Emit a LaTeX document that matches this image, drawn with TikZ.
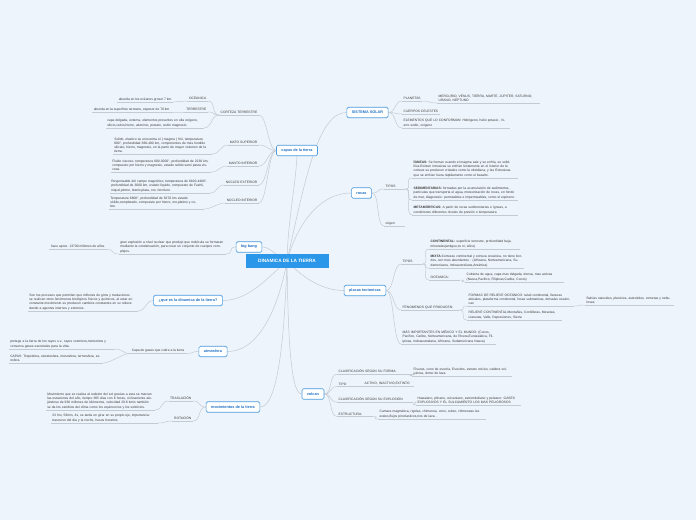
\documentclass[tikz,border=0pt]{standalone}
\usepackage{fontspec}
\setmainfont{Liberation Sans}
\usetikzlibrary{backgrounds}
\definecolor{bgc}{HTML}{EEF4FB}
\definecolor{mblue}{HTML}{4A9BE0}
\definecolor{mtext}{HTML}{1C6FC4}
\definecolor{cblue}{HTML}{2A97E8}
\definecolor{lgray}{HTML}{C3CAD2}
\definecolor{tgray}{HTML}{3A3A3A}
\newcommand\leaffont{\fontsize{3.3}{4.2}\selectfont}
\begin{document}
\begin{tikzpicture}[x=1pt,y=-1pt,
  conn/.style={draw=lgray,line width=0.5pt},
  uline/.style={draw=lgray,line width=0.5pt},
  lc/.style={to path={.. controls +(-#1,0) and +(#1,0) .. (\tikztotarget)}}, lc/.default=8,
  rc/.style={to path={.. controls +(#1,0) and +(-#1,0) .. (\tikztotarget)}}, rc/.default=8,
  mainbox/.style={draw=mblue,line width=0.6pt,rounded corners=1.5pt,fill=white,text=mtext,
    font=\bfseries\fontsize{3.8}{4.5}\selectfont,inner xsep=5pt,inner ysep=0pt,minimum height=10.5pt},
  centerbox/.style={fill=cblue,text=white,font=\bfseries\fontsize{4.7}{5.5}\selectfont,
    minimum width=83pt,minimum height=14pt,inner sep=0pt},
  leaf/.style={font=\leaffont,text=tgray,align=left,inner xsep=1.5pt,inner ysep=1pt,
    append after command={(\tikzlastnode.south west) edge[uline] (\tikzlastnode.south east)}},
  leafR/.style={leaf,anchor=south west},
  leafL/.style={leaf,anchor=south east},
]
\useasboundingbox (0,0) rectangle (696,520);

% main nodes
\node[centerbox] (dt) at (287,261) {DINAMICA DE LA TIERRA};
\node[mainbox] (capas) at (297,150.5) {capas de la tierra};
\node[mainbox] (ss) at (367.5,112.5) {SISTEMA SOLAR};
\node[mainbox] (rocas) at (361.5,193) {rocas};
\node[mainbox] (bb) at (249,247) {big bang};
\node[mainbox] (placas) at (365,290.5) {placas tectonicas};
\node[mainbox] (que) at (188,300.5) {¿que es la dinamica de la tierra?};
\node[mainbox] (atm) at (213,351.5) {atmosfera};
\node[mainbox] (mov) at (233,407) {movimientos de la tierra};
\node[mainbox] (vol) at (313,394) {volcan};

% capas de la tierra
\node[leafL] (cort) at (259,115) {CORTEZA TERRESTRE};
\node[leafL] (msup) at (259,145) {MATO SUPERIOR};
\node[leafL] (minf) at (259,166) {MANTO INFERIOR};
\node[leafL] (next) at (259,185) {NÚCLEO EXTERIOR};
\node[leafL] (nint) at (259,203) {NÚCLEO INTERIOR};
\node[leafL] (oce) at (208,101) {OCEANICA};
\node[leafL] (ter) at (208,112) {TERRESTRE};
\node[leafL,text width=95pt] (cdel) at (204,128) {capa delgada, externa, elementos presentes en ella oxígeno, silicio,calcio,hierro, aluminio, potasio, sodio magnesio.};
\node[leafL] (oce2) at (173,102) {abunda en los océanos grosor 7 km};
\node[leafL] (ter2) at (171,112) {abunda en la superficie terrestre, espesor de 70 km};
\node[leafL,text width=96pt] (msup2) at (212,154) {Solido, elastico se encuentra el ( magma ) frió, temperatura 600°, profundidad 360-400 km, componentes de mas fundido silicato, hierro, magnesio, en la parte de mayor volumen de la tierra.};
\node[leafL,text width=97pt] (minf2) at (211,172) {Fluido viscoso, temperatura 600-3000°, profundidad de 2230 km, compuesto por hierro y magnesio, estado solido semi pasta viscosa.};
\node[leafL,text width=97pt] (next2) at (210,193) {Responsable del campo magnético, temperatura de 6100-4400°, profundidad de 3000 km, estado liquido, compuesto de FeeNi, niquel,plomo, titanio,plata, oro, ferroluro.};
\node[leafL,text width=92pt] (nint2) at (204,209) {Temperatura 6600°, profundidad de 6370 km estado sólido,completado, compuesto por hierro, oro,platino y cobre.};

% big bang
\node[leafL,text width=104pt] (gran) at (226,254) {gran explosión a nivel nuclear que produjo que molécula se formaran mediante la condensación, para crear un conjunto de cuerpos complejos.};
\node[leafL] (hace) at (107,249.5) {hace aprox. 13700 millones de años.};

% que es
\node[leafL,text width=107pt] (qtext) at (138,311) {Son los procesos que permiten que millones de giros y traslaciones se realicen otros fenómenos biológicos físicos y químicos, al estar en constante movimiento se producen cambios constantes en su relieve dando a agentes internos y externos.};

% atmosfera
\node[leafL] (capa) at (186,353.5) {Capa de gases que cubre a la tierra};
\node[leafL,text width=103pt] (prot) at (115,349) {protege a la tierra de los rayos u.v., rayos cosmicos,meteoritos y conserva gases esenciales para la vida.};
\node[leafL,text width=91pt] (capas2) at (103,363) {CAPAS: Troposfera, estratosfera, mesosfera, termosfera, exosfera.};

% movimientos
\node[leafL] (tras) at (193,401) {TRASLACIÓN};
\node[leafL] (rot) at (193,421) {ROTACIÓN};
\node[leafL,text width=106pt] (tras2) at (155,410) {Movimiento que se realiza al rededor del sol gracias a esta se marcan las estaciones del año, tiempo 365 días con 6 horas, cíclicamente alejándose de 930 millones de kilómetros, velocidad 29.8 km/s también se da los cambios del clima como los equinoccios y los solsticios.};
\node[leafL,text width=104pt] (rot2) at (158,423) {23 hrs, 56min, 4s, se tarda en girar en su propio eje, importancia: trascurso del día y la noche, husos horarios.};

% sistema solar
\node[leafR] (plan) at (402,101) {PLANETAS};
\node[leafR,text width=100pt] (merc) at (437,103) {MERCURIO, VENUS, TIERRA, MARTE, JÚPITER, SATURNO, URANO, NEPTUNO};
\node[leafR] (cuer) at (402,114) {CUERPOS CELESTES};
\node[leafR,text width=105pt] (elem) at (402,128) {ELEMENTOS QUE LO CONFORMAN: Hidrógeno, helio potasio , hierro sodio, oxigeno};

% rocas
\node[leafR,text width=18pt] (tipos) at (384,189) {TIPOS};
\node[leafR,text width=18pt] (orig) at (384,226) {origen};
\node[leafR,text width=103pt] (ign) at (412,178) {\textbf{ÍGNEAS:} Se forman cuando el magma sale y se enfría, se solidifica.Existen intrusivas se enfrían lentamente en el interior de la corteza se producen cristales como la obsidiana, y las Extrusivas que se enfrían fuera rápidamente como el basalto.};
\node[leafR,text width=103pt] (sed) at (412,200) {\textbf{SEDIMENTARIAS:} formadas por la acumulación de sedimentos, partículas que transporta el agua, meteorización de rocas, en fondo de mar, diagenesis: permeables e impermeables, como el espinero.};
\node[leafR,text width=103pt] (met) at (412,215) {\textbf{METAMÓRFICAS:} A partir de rocas sedimentarias e ígneas, a condiciones diferentes niveles de presión o temperatura};

% placas tectonicas
\node[leafR,text width=18pt] (ptip) at (401,264) {TIPOS};
\node[leafR,text width=55pt] (fen) at (401,310) {FENOMENOS QUE PRODUCEN:};
\node[leafR,text width=92pt] (mas) at (401,344) {MÁS IMPORTANTES EN MÉXICO Y EL MUNDO: (Cocos, Pacifico, Caribe, Norteamericana, de Rivera,Euroasiática, Filipinas, Indoaustraliana, Africana, Sudamericana Nasca)};
\node[leafR,text width=88pt] (cont) at (429,249) {\textbf{CONTINENTAL:} superficie terrestre, profundidad baja, minerales(antiguo,ss ni, silice)};
\node[leafR,text width=92pt] (mix) at (429,268) {\textbf{MIXTA:}Cortezas continental y corteza oceánica, no tiene bordes, son mas abundantes : (Africana, Norteamericana, Sudamericana, Indoaustraliana,Antártica)};
\node[leafR,text width=28pt] (poce) at (429,280) {OCEANICA:};
\node[leafR,text width=96pt] (cub) at (465,282) {Cubierta de agua, capa mas delgada, densa, mas activas (Nasca,Pacifico, Filipinas,Caribe, Cocos)};
\node[leafR,text width=104pt] (form) at (467,306) {FORMAS DE RELIEVE OCEÁNICO: talud continental, llanuras abisales, plataforma continental, fosas submarinas, dorsales oceánicas};
\node[leafR,text width=92pt] (rel) at (467,320) {RELIEVE CONTINENTAL:Montañas, Cordilleras, Mesetas, Llanuras, Valle, Depresiones, Sierra};
\node[leafR,text width=86pt] (bah) at (585,305) {Bahías naturales, planicies, asteroides, cometas y nebulosas.};

% volcan
\node[leafR,text width=72pt] (cf) at (337,374) {CLASIFICACIÓN SEGÚN SU FORMA:};
\node[leafR,text width=97pt] (fis) at (412,376) {Fisuras, cono de escoria, Escudos, estrato volcán, caldera volcánica, domo de lava.};
\node[leafR,text width=12pt] (tipo) at (337,386.5) {TIPO};
\node[leafR,text width=48pt] (act) at (363,386.5) {ACTIVO, INACTIVO,EXTINTO};
\node[leafR,text width=73pt] (ce) at (337,402) {CLASIFICACIÓN SEGÚN SU EXPLOSIÓN};
\node[leafR,text width=102pt] (haw) at (416,405) {Hawaiano, plinano, vulcaniano, estromboliano y peleano: GASES EXPLOSIVOS Y EL SULCAMIENTO LOS MAS PELIGROSOS};
\node[leafR,text width=33pt] (est) at (337,416.5) {ESTRUCTURA:};
\node[leafR,text width=105pt] (cam) at (378,419) {Camara magmática, rigolas, chimenea, cono, cráter, chimeneas laterales,flujos piroclasticos,rios de lava .};

\begin{pgfonlayer}{background}
\fill[bgc] (0,0) rectangle (696,520);
% central connectors
\draw[conn] (dt.center) .. controls (288,220) and (295,190) .. (capas.south);
\draw[conn] (dt.center) .. controls (305,180) and (318,112) .. (ss.west);
\draw[conn] (dt.center) .. controls (300,215) and (325,193) .. (rocas.west);
\draw[conn] (dt.center) .. controls (275,255) and (270,247) .. (bb.east);
\draw[conn] (dt.center) .. controls (300,275) and (320,290.5) .. (placas.west);
\draw[conn] (dt.center) .. controls (270,275) and (250,300.5) .. (que.east);
\draw[conn] (dt.center) .. controls (280,300) and (262,351.5) .. (atm.east);
\draw[conn] (dt.center) .. controls (285,320) and (280,407) .. (mov.east);
\draw[conn] (dt.center) .. controls (288,330) and (290,394) .. (vol.west);
% left side
\foreach \c in {cort,msup,minf,next,nint} \draw[conn] (capas.west) to[lc] (\c.south east);
\foreach \c in {oce,ter,cdel} \draw[conn] (cort.south west) to[lc] (\c.south east);
\draw[conn] (oce.south west) to[lc] (oce2.south east);
\draw[conn] (ter.south west) to[lc] (ter2.south east);
\draw[conn] (msup.south west) to[lc] (msup2.south east);
\draw[conn] (minf.south west) to[lc] (minf2.south east);
\draw[conn] (next.south west) to[lc] (next2.south east);
\draw[conn] (nint.south west) to[lc] (nint2.south east);
\draw[conn] (bb.west) to[lc] (gran.south east);
\draw[conn] (gran.south west) to[lc] (hace.south east);
\draw[conn] (que.west) to[lc] (qtext.south east);
\draw[conn] (atm.west) to[lc] (capa.south east);
\foreach \c in {prot,capas2} \draw[conn] (capa.south west) to[lc] (\c.south east);
\foreach \c in {tras,rot} \draw[conn] (mov.west) to[lc] (\c.south east);
\draw[conn] (tras.south west) to[lc] (tras2.south east);
\draw[conn] (rot.south west) to[lc] (rot2.south east);
% right side
\foreach \c in {plan,cuer,elem} \draw[conn] (ss.east) to[rc] (\c.south west);
\draw[conn] (plan.south east) to[rc] (merc.south west);
\foreach \c in {tipos,orig} \draw[conn] (rocas.east) to[rc] (\c.south west);
\foreach \c in {ign,sed,met} \draw[conn] (tipos.south east) to[rc] (\c.south west);
\foreach \c in {ptip,fen,mas} \draw[conn] (placas.east) to[rc] (\c.south west);
\foreach \c in {cont,mix,poce} \draw[conn] (ptip.south east) to[rc] (\c.south west);
\draw[conn] (poce.south east) to[rc] (cub.south west);
\foreach \c in {form,rel} \draw[conn] (fen.south east) to[rc] (\c.south west);
\draw[conn] (form.south east) to[rc] (bah.south west);
\foreach \c in {cf,tipo,ce,est} \draw[conn] (vol.east) to[rc] (\c.south west);
\draw[conn] (cf.south east) to[rc] (fis.south west);
\draw[conn] (tipo.south east) to[rc] (act.south west);
\draw[conn] (ce.south east) to[rc] (haw.south west);
\draw[conn] (est.south east) to[rc] (cam.south west);
\end{pgfonlayer}
\end{tikzpicture}
\end{document}
